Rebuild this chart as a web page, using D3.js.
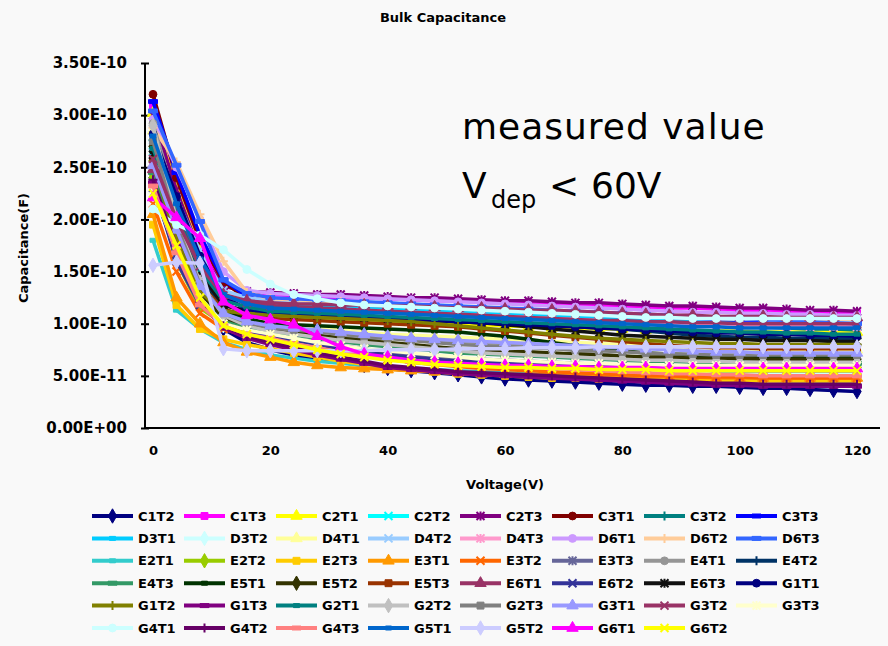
<!DOCTYPE html>
<html>
<head>
<meta charset="utf-8">
<script src="https://cdnjs.cloudflare.com/ajax/libs/d3/7.8.5/d3.min.js"></script>
<style>
  body { margin: 0; background: #f9f9f9; }
  svg text { font-family: "DejaVu Sans", sans-serif; }
  .bold { font-weight: bold; fill: #000; }
</style>
</head>
<body>
<svg width="888" height="646"></svg>
<script>
// bias voltage (V), one reading every 4 V
var voltages = [0,4,8,12,16,20,24,28,32,36,40,44,48,52,56,60,64,68,72,76,80,84,88,92,96,100,104,108,112,116,120];

// capacitance per sensor, in pF
var C1T2 = [240,200,130,95,82,75,70,66,63,60,57,55,53,51,49,47,46,45,44,43,42,41,41,40,40,39,38,38,37,36,35];
var C1T3 = [308,235,175,138,130,128,127,126,125,125,124,123,122,122,121,120,119,119,118,117,117,116,115,115,114,113,113,112,111,111,110];
var C2T1 = [302,230,170,130,114,108,107,106,105,104,103,102,101,100,99,98,97,96,96,95,95,94,94,93,93,93,92,92,92,92,92];
var C2T2 = [265,185,125,100,93,89,85,81,77,74,71,68,66,64,62,61,60,59,58,57,56,55,55,54,54,54,53,53,53,53,53];
var C2T3 = [300,228,168,136,131,130,129,128,128,127,126,125,125,124,123,122,122,121,120,120,119,118,117,117,116,115,115,114,113,113,112];
var C3T1 = [320,240,180,140,124,120,119,118,117,116,115,114,113,112,111,110,109,108,107,106,105,104,103,102,101,100,99,98,97,97,96];
var C3T2 = [276,210,160,128,118,114,113,113,112,111,111,110,109,108,108,107,106,105,104,103,102,101,100,99,98,98,97,96,95,95,94];
var C3T3 = [313,245,185,142,126,121,120,119,119,118,117,116,115,114,113,112,111,110,109,108,107,106,105,104,103,103,102,102,101,101,101];
var D3T1 = [260,200,150,125,121,119,118,117,116,116,115,114,113,112,111,110,109,108,107,106,105,104,103,102,101,100,100,99,99,98,98];
var D3T2 = [225,170,120,98,92,87,82,77,73,69,66,63,61,59,58,57,56,55,55,54,54,53,53,53,52,52,52,52,52,52,52];
var D4T1 = [285,215,150,115,105,100,98,96,94,92,90,89,88,87,86,85,84,83,82,81,80,79,78,77,76,76,75,75,75,75,75];
var D4T2 = [270,220,170,132,125,122,121,120,119,118,118,117,116,115,114,113,112,111,110,109,108,107,106,105,105,104,104,103,103,102,102];
var D4T3 = [255,195,150,124,119,116,115,114,114,113,112,111,110,109,108,107,106,105,104,103,102,101,100,99,99,98,98,97,97,97,97];
var D6T1 = [296,250,200,150,132,129,128,127,126,125,124,123,122,121,120,119,118,117,116,115,114,113,112,111,111,110,110,109,109,108,108];
var D6T2 = [288,255,205,160,130,124,123,122,121,120,119,118,117,116,115,114,113,112,111,110,109,108,107,106,105,105,104,104,104,104,104];
var D6T3 = [304,252,198,142,129,125,124,123,122,121,120,119,118,117,116,115,114,113,112,111,110,109,108,107,106,105,104,103,102,101,100];
var E2T1 = [180,113,95,82,75,70,67,64,62,60,58,57,56,55,54,53,52,51,50,49,48,48,47,47,46,46,46,45,45,45,45];
var E2T2 = [240,160,115,100,95,91,86,82,78,75,72,70,68,66,65,64,63,62,61,61,60,60,59,59,59,58,58,58,58,58,58];
var E2T3 = [195,118,95,85,80,76,72,68,64,61,58,56,54,52,51,50,49,48,48,47,47,46,46,46,45,45,45,45,45,45,45];
var E3T1 = [205,125,100,82,73,68,63,60,58,57,56,55,54,53,52,52,51,51,50,50,50,49,49,49,48,48,48,48,48,48,48];
var E3T2 = [215,150,110,95,88,84,80,76,72,69,66,63,61,59,57,56,55,54,53,52,51,50,50,49,49,49,48,48,48,48,48];
var E3T3 = [230,165,120,100,94,90,86,82,79,76,73,71,69,67,66,65,64,63,62,61,60,60,59,59,59,58,58,58,58,58,58];
var E4T1 = [292,215,150,110,97,92,90,88,87,86,86,85,84,83,82,81,79,77,74,71,69,67,66,65,65,64,64,64,64,64,64];
var E4T2 = [250,190,140,118,112,110,109,108,107,106,105,104,103,102,101,100,99,98,97,96,95,93,91,89,88,87,87,86,86,86,86];
var E4T3 = [245,175,125,104,97,92,89,86,83,80,78,76,74,72,71,70,69,68,67,66,65,64,64,63,63,63,62,62,62,62,62];
var E5T1 = [265,195,140,112,105,100,99,98,97,96,95,94,93,92,90,88,85,82,79,76,74,72,71,70,69,69,68,68,68,68,68];
var E5T2 = [270,185,130,106,99,95,92,89,86,84,82,80,78,76,75,74,73,72,71,70,69,68,68,67,67,67,66,66,66,66,66];
var E5T3 = [258,190,138,114,108,105,104,103,102,101,100,99,98,97,95,93,91,89,87,85,83,81,79,78,77,77,76,76,76,76,76];
var E6T1 = [248,205,160,128,122,120,119,119,118,118,117,117,116,115,115,114,113,113,112,111,110,109,108,108,107,107,107,106,106,106,106];
var E6T2 = [235,160,118,100,93,88,84,80,76,73,70,68,66,64,63,62,61,60,59,58,57,57,56,56,55,55,55,55,55,55,55];
var E6T3 = [262,200,148,118,112,110,109,108,107,106,105,104,103,102,101,99,97,95,93,91,89,88,87,86,85,85,84,84,84,83,83];
var G1T1 = [282,222,165,126,114,110,109,108,107,106,105,104,103,102,101,100,99,98,97,96,95,94,93,92,91,91,90,90,89,89,88];
var G1T2 = [256,180,130,112,110,108,107,106,105,104,103,102,100,98,96,94,92,90,88,86,85,84,83,82,81,81,80,80,80,80,80];
var G1T3 = [235,175,120,96,86,80,75,70,66,62,58,56,54,52,51,50,49,48,47,46,45,44,43,42,41,41,40,40,40,40,40];
var G2T1 = [268,205,152,122,116,112,111,110,109,108,107,106,105,104,103,102,101,100,99,98,97,96,95,94,93,92,92,91,91,90,90];
var G2T2 = [290,200,140,108,98,93,90,87,84,82,80,78,76,74,72,71,70,69,68,67,66,65,65,64,64,63,63,63,63,63,63];
var G2T3 = [275,195,138,110,101,96,94,92,90,88,86,84,82,80,79,78,77,76,75,74,73,72,71,71,70,70,70,70,70,70,70];
var G3T1 = [252,190,136,110,102,98,96,94,92,90,88,86,85,84,83,82,81,80,79,78,77,76,75,74,73,73,72,72,72,72,72];
var G3T2 = [258,200,155,127,120,117,116,115,114,113,112,111,110,109,108,107,106,105,104,103,103,102,102,101,101,100,100,100,100,100,100];
var G3T3 = [228,170,125,100,94,90,86,82,79,76,74,72,70,68,66,65,64,63,62,62,61,61,60,60,60,60,60,60,60,60,60];
var G4T1 = [210,195,185,171,152,138,128,124,120,118,117,116,115,114,113,112,111,110,109,108,107,106,106,105,105,105,105,105,105,105,105];
var G4T2 = [238,172,122,98,88,82,77,72,68,64,60,58,56,54,53,52,51,50,49,48,47,46,45,44,43,43,42,42,42,42,42];
var G4T3 = [232,168,118,98,90,86,81,77,73,70,67,65,63,61,60,59,58,57,56,55,54,53,52,52,51,51,50,50,50,50,50];
var G5T1 = [280,215,162,128,119,115,114,113,112,111,110,109,108,107,106,105,104,103,102,101,100,99,98,97,97,96,96,96,96,96,96];
var G5T2 = [156,159,158,76,74,74,74,74,74,74,75,75,75,76,76,76,77,77,77,78,78,78,78,78,78,78,78,78,78,78,78];
var G6T1 = [221,202,182,121,108,104,99,88,78,71,68,65,63,62,61,60,60,59,59,58,58,58,57,57,57,57,57,57,57,57,57];
var G6T2 = [225,175,125,98,90,85,80,75,71,68,65,63,61,60,59,58,58,57,57,56,56,56,55,55,55,55,55,55,55,55,55];

var seriesNames = ["C1T2","C1T3","C2T1","C2T2","C2T3","C3T1","C3T2","C3T3",
  "D3T1","D3T2","D4T1","D4T2","D4T3","D6T1","D6T2","D6T3",
  "E2T1","E2T2","E2T3","E3T1","E3T2","E3T3","E4T1","E4T2",
  "E4T3","E5T1","E5T2","E5T3","E6T1","E6T2","E6T3","G1T1",
  "G1T2","G1T3","G2T1","G2T2","G2T3","G3T1","G3T2","G3T3",
  "G4T1","G4T2","G4T3","G5T1","G5T2","G6T1","G6T2"];
var seriesValues = [C1T2,C1T3,C2T1,C2T2,C2T3,C3T1,C3T2,C3T3,
  D3T1,D3T2,D4T1,D4T2,D4T3,D6T1,D6T2,D6T3,
  E2T1,E2T2,E2T3,E3T1,E3T2,E3T3,E4T1,E4T2,
  E4T3,E5T1,E5T2,E5T3,E6T1,E6T2,E6T3,G1T1,
  G1T2,G1T3,G2T1,G2T2,G2T3,G3T1,G3T2,G3T3,
  G4T1,G4T2,G4T3,G5T1,G5T2,G6T1,G6T2];
var seriesColors = ["#000080","#ff00ff","#ffff00","#00ffff","#800080","#800000","#008080","#0000ff",
  "#00ccff","#ccffff","#ffff99","#99ccff","#ff99cc","#cc99ff","#ffcc99","#3366ff",
  "#33cccc","#99cc00","#ffcc00","#ff9900","#ff6600","#666699","#969696","#003366",
  "#339966","#003300","#333300","#993300","#993366","#333399","#111111","#000080",
  "#808000","#800080","#008080","#c0c0c0","#808080","#9999ff","#993366","#ffffcc",
  "#ccffff","#660066","#ff8080","#0066cc","#ccccff","#ff00ff","#ffff00"];
var seriesMarkers = ["diamond","square","triangle","x","star","circle","plus","dash",
  "sdash","diamond","triangle","x","star","circle","plus","dash",
  "sdash","diamond","square","triangle","x","star","circle","plus",
  "dash","sdash","diamond","square","triangle","x","star","circle",
  "plus","dash","sdash","diamond","square","triangle","x","star",
  "circle","plus","dash","sdash","diamond","triangle","x"];

var yTicks = [0, 5e-11, 1e-10, 1.5e-10, 2e-10, 2.5e-10, 3e-10, 3.5e-10];
var xTicks = [0, 20, 40, 60, 80, 100, 120];

var svg = d3.select("svg");

var x = d3.scaleLinear().domain([0, 120]).range([153, 857]);
var y = d3.scaleLinear().domain([0, 3.5e-10]).range([428, 63]);

function sciFormat(v) {
  if (v === 0) return "0.00E+00";
  var ex = Math.floor(Math.log10(v) + 1e-9);
  var mant = v / Math.pow(10, ex);
  var e = Math.abs(ex);
  return mant.toFixed(2) + "E" + (ex < 0 ? "-" : "+") + (e < 10 ? "0" + e : e);
}

function markerPath(type) {
  switch (type) {
    case "diamond": return d3.symbol(d3.symbolDiamond, 60)();
    case "square": return d3.symbol(d3.symbolSquare, 48)();
    case "triangle": return d3.symbol(d3.symbolTriangle, 56)();
    case "circle": return d3.symbol(d3.symbolCircle, 48)();
    case "x": return "M-4,-4L4,4M-4,4L4,-4";
    case "star": return "M-4,-4L4,4M-4,4L4,-4M0,-4.5L0,4.5";
    case "plus": return "M-4.5,0L4.5,0M0,-4.5L0,4.5";
    case "dash": return "M-4.5,-2h9v4h-9z";
    default: return "M-3,-2h6v4h-6z";
  }
}
function isStroked(type) {
  return type == "x" || type == "star" || type == "plus";
}

// title
svg.append("text")
  .attr("class", "bold")
  .attr("x", 443).attr("y", 22)
  .attr("text-anchor", "middle")
  .style("font-size", "13px")
  .text("Bulk Capacitance");

// axes
var yAxis = svg.append("g")
  .attr("transform", "translate(145,0)")
  .call(d3.axisLeft(y).tickValues(yTicks).tickFormat(sciFormat)
    .tickSizeInner(5).tickSizeOuter(0).tickPadding(13));
yAxis.select(".domain").remove();
yAxis.selectAll("line").attr("stroke", "#000").attr("stroke-width", 2).attr("x2", -4).attr("x1", 4);
yAxis.selectAll("text").attr("class", "bold").style("font-size", "15px");

var xAxis = svg.append("g")
  .attr("transform", "translate(0,428)")
  .call(d3.axisBottom(x).tickValues(xTicks).tickSize(0).tickPadding(18));
xAxis.select(".domain").remove();
xAxis.selectAll("text").attr("class", "bold").style("font-size", "13px");

svg.append("line").attr("x1", 145).attr("x2", 145).attr("y1", 63).attr("y2", 429)
  .attr("stroke", "#000").attr("stroke-width", 2);
svg.append("line").attr("x1", 144).attr("x2", 880).attr("y1", 428).attr("y2", 428)
  .attr("stroke", "#000").attr("stroke-width", 2);

svg.append("text")
  .attr("class", "bold")
  .attr("transform", "translate(28,248) rotate(-90)")
  .attr("text-anchor", "middle")
  .style("font-size", "13px")
  .text("Capacitance(F)");

svg.append("text")
  .attr("class", "bold")
  .attr("x", 505).attr("y", 489)
  .attr("text-anchor", "middle")
  .style("font-size", "13px")
  .text("Voltage(V)");

// series
var line = d3.line()
  .x(function(d, i) { return x(voltages[i]); })
  .y(function(d) { return y(d * 1e-12); });

var plot = svg.append("g").attr("class", "series");
seriesValues.forEach(function(vals, s) {
  var g = plot.append("g");
  var col = seriesColors[s];
  var mk = seriesMarkers[s];
  g.append("path")
    .attr("d", line(vals))
    .attr("fill", "none")
    .attr("stroke", col)
    .attr("stroke-width", 3.5)
    .attr("stroke-linejoin", "round");
  g.selectAll("path.mk")
    .data(vals)
    .enter().append("path")
    .attr("class", "mk")
    .attr("transform", function(d, i) {
      return "translate(" + x(voltages[i]) + "," + y(d * 1e-12) + ")";
    })
    .attr("d", markerPath(mk))
    .attr("fill", isStroked(mk) ? "none" : col)
    .attr("stroke", col)
    .attr("stroke-width", isStroked(mk) ? 2 : 1);
});

// annotation
svg.append("text").attr("x", 462).attr("y", 139)
  .style("font-size", "36px").style("letter-spacing", "1px").attr("fill", "#000")
  .text("measured value");
svg.append("text").attr("x", 462).attr("y", 198)
  .style("font-size", "36px").attr("fill", "#000").text("V");
svg.append("text").attr("x", 491).attr("y", 208)
  .style("font-size", "24px").attr("fill", "#000").text("dep");
svg.append("text").attr("x", 549).attr("y", 198)
  .style("font-size", "36px").attr("fill", "#000").text("<");
svg.append("text").attr("x", 591).attr("y", 198)
  .style("font-size", "36px").attr("fill", "#000").text("60V");

// legend, 8 per row
var legend = svg.append("g").attr("class", "legend");
seriesNames.forEach(function(name, s) {
  var col = s % 8, row = Math.floor(s / 8);
  var lx = 92 + col * 92, ly = 516 + row * 22.4;
  var item = legend.append("g").attr("transform", "translate(" + lx + "," + ly + ")");
  item.append("line").attr("x1", 0).attr("x2", 41).attr("y1", 0).attr("y2", 0)
    .attr("stroke", seriesColors[s]).attr("stroke-width", 4);
  item.append("path")
    .attr("transform", "translate(20.5,0)")
    .attr("d", markerPath(seriesMarkers[s]))
    .attr("fill", isStroked(seriesMarkers[s]) ? "none" : seriesColors[s])
    .attr("stroke", seriesColors[s])
    .attr("stroke-width", isStroked(seriesMarkers[s]) ? 2 : 1);
  item.append("text")
    .attr("class", "bold")
    .attr("x", 46).attr("y", 0).attr("dy", "0.36em")
    .style("font-size", "13px")
    .text(name);
});
</script>
</body>
</html>
